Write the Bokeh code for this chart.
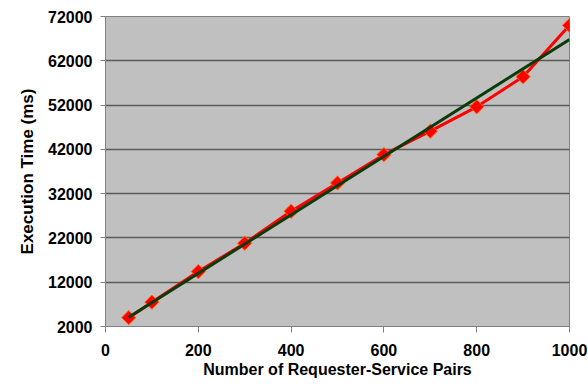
from bokeh.plotting import figure
from bokeh.models import Range1d, FixedTicker
from bokeh.embed import file_html
from bokeh.resources import INLINE

pairs = [50, 100, 200, 300, 400, 500, 600, 700, 800, 900, 1000]
exec_ms = [4000, 7500, 14400, 20800, 28000, 34400, 40800, 46100, 51600, 58400, 70000]
trend_x = [50, 1000]
trend_y = [4100, 66800]
x_ticks = [0, 200, 400, 600, 800, 1000]
y_ticks = [2000, 12000, 22000, 32000, 42000, 52000, 62000, 72000]

p = figure(width=588, height=391, output_backend="svg", toolbar_location=None,
           x_range=Range1d(0, 1000), y_range=Range1d(2000, 72000),
           min_border_left=105, min_border_top=16, min_border_right=19, min_border_bottom=65)

p.background_fill_color = "#C0C0C0"
p.border_fill_color = "white"
p.outline_line_color = "#808080"
p.outline_line_width = 1

p.xgrid.grid_line_color = None
p.ygrid.grid_line_color = "#5a5a5a"
p.ygrid.grid_line_width = 1.3

p.xaxis.ticker = FixedTicker(ticks=x_ticks)
p.yaxis.ticker = FixedTicker(ticks=y_ticks)
p.xaxis.axis_label = "Number of Requester-Service Pairs"
p.yaxis.axis_label = "Execution Time (ms)"

for ax in (p.xaxis, p.yaxis):
    ax.axis_line_color = "#808080"
    ax.major_tick_line_color = "#808080"
    ax.minor_tick_line_color = None
    ax.major_tick_in = 0
    ax.major_label_text_font = "Liberation Sans"
    ax.major_label_text_font_style = "bold"
    ax.major_label_text_font_size = "16px"
    ax.major_label_text_color = "black"
    ax.axis_label_text_font = "Liberation Sans"
    ax.axis_label_text_font_style = "bold"
    ax.axis_label_text_color = "black"

p.xaxis.axis_label_text_font_size = "16px"
p.yaxis.axis_label_text_font_size = "17px"
p.yaxis.major_tick_out = 5
p.yaxis.major_label_standoff = 8
p.yaxis.axis_label_standoff = 8
p.xaxis.major_tick_out = 6
p.xaxis.major_label_standoff = 11
p.xaxis.axis_label_standoff = 2

p.line(pairs, exec_ms, line_color="#FF0000", line_width=3)
p.scatter(pairs, exec_ms, marker="square", angle=0.785398, size=10,
          fill_color="#FF0000", line_color="#FF6600", line_width=1)
p.line(trend_x, trend_y, line_color="#0B3B0B", line_width=3)

open("out.html", "w").write(file_html(p, INLINE))
